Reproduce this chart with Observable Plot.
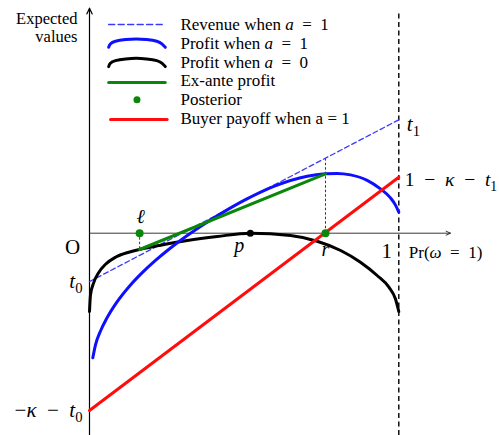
<!DOCTYPE html>
<html>
<head>
<meta charset="utf-8">
<script src="https://cdn.jsdelivr.net/npm/d3@7"></script>
<script src="https://cdn.jsdelivr.net/npm/@observablehq/plot@0.6"></script>
<style>
  body { margin: 0; background: #fff; }
  #chart svg { display: block; }
</style>
</head>
<body>
<div id="chart"></div>
<script>
// Beliefs Pr(ω = 1) and the expected values.
const profitA1X = [0.0107, 0.0194, 0.0356, 0.055, 0.0873, 0.1326, 0.1714, 0.2134, 0.2619, 0.3104, 0.3589, 0.4235, 0.5044, 0.5959, 0.7039, 0.763, 0.8008, 0.8438, 0.8978, 0.9408, 0.9732, 0.9893, 1];
const profitA1Y = [-1.246, -1.116, -0.978, -0.856, -0.695, -0.518, -0.392, -0.272, -0.148, -0.036, 0.067, 0.193, 0.335, 0.468, 0.570, 0.594, 0.598, 0.583, 0.529, 0.443, 0.353, 0.281, 0.211];

const profitA0X = [0, 0.0032, 0.014, 0.03, 0.052, 0.084, 0.127, 0.162, 0.23, 0.316, 0.413, 0.52, 0.65, 0.736, 0.812, 0.876, 0.93, 0.968, 0.989, 1];
const profitA0Y = [-0.783, -0.618, -0.492, -0.392, -0.31, -0.24, -0.19, -0.163, -0.12, -0.073, -0.033, 0, -0.023, -0.08, -0.173, -0.29, -0.423, -0.54, -0.656, -0.783];

// Revenue when a = 1 runs from t0 to t1; buyer payoff from −κ − t0 to 1 − κ − t1.
const t0 = -0.484, t1 = 1.134;
const buyerLow = -1.773, buyerHigh = 0.56;

// Posterior beliefs ℓ and r, and the prior p.
const ell = 0.162, prior = 0.52, r = 0.763;

// Text ($…$ italic, _c subscript)
const beliefLabels = ["$ℓ$", "$p$", "$r$"];
const originLabel = "O", oneLabel = "1", xTitle = "Pr($ω$\u2002=\u20021)", yTitle = "Expected\nvalues";
const t0Label = "$t$_0", t1Label = "$t$_1";
const buyerLowLabel = "−$κ$\u2002−\u2002$t$_0", buyerHighLabel = "1\u2002−\u2002$κ$\u2002−\u2002$t$_1";
const legendLabels = ["Revenue when $a$\u2002=\u20021", "Profit when $a$\u2002=\u20021", "Profit when $a$\u2002=\u20020", "Ex-ante profit", "Posterior", "Buyer payoff when a = 1"];

// ---- derived rows ----
const zip = (xs, ys) => xs.map((x, i) => ({x, y: ys[i]}));
const profitA1 = zip(profitA1X, profitA1Y);
const profitA0 = zip(profitA0X, profitA0Y);
const revenue = zip([0, 1], [t0, t1]);
const buyer = zip([0, 1], [buyerLow, buyerHigh]);
const a0AtEll = profitA0Y[profitA0X.indexOf(ell)];
const a1AtR = profitA1Y[profitA1X.indexOf(r)];
const exAnte = zip([ell, r], [a0AtEll, a1AtR]);
const revenueAtR = t0 + r * (t1 - t0);

const BLUE = "#0f0fff", DASHBLUE = "#3a3aff", GREEN = "#0a870a", RED = "#ff0d0d";
const yMin = -2.023, yMax = 2.327;
const unitPerPx = (yMax - yMin) / 435;

// legend layout (in scale units)
const lgX0 = 0.062, lgX1 = 0.245, lgTextX = 0.294, lgTop = 2.087, lgStep = 0.188;
const rowY = i => lgTop - i * lgStep;
const arcShape = [[0, 4], [0.03, 0.6], [0.12, -2], [0.3, -3.7], [0.485, -4.4], [0.67, -3.7], [0.85, -2], [0.94, 0.6], [1, 4]];
const arc = (i, dyPx) => arcShape.map(([f, o]) => ({x: lgX0 + f * (lgX1 - lgX0), y: rowY(i) - (o + dyPx) * unitPerPx}));

const lineW = 3;
const mathSize = 21;

const plot = Plot.plot({
  width: 499,
  height: 435,
  x: {domain: [0, 1], range: [89, 398.3], axis: null},
  y: {domain: [yMin, yMax], range: [435, 0], axis: null},
  style: {fontFamily: "'Liberation Serif', 'DejaVu Serif', serif", background: "#fff", color: "#000"},
  marks: [
    // belief = 1 boundary
    Plot.ruleX([1], {y1: yMin, y2: 2.2, stroke: "#000", strokeWidth: 1.4, strokeDasharray: "5,3.5"}),
    // axes
    Plot.arrow([{x1: 0, y1: yMin - 0.05, x2: 0, y2: 2.25}], {x1: "x1", y1: "y1", x2: "x2", y2: "y2", stroke: "#000", strokeWidth: 1.2, headLength: 8, headAngle: 50}),
    Plot.arrow([{x1: 0, y1: 0, x2: 1.167, y2: 0}], {x1: "x1", y1: "y1", x2: "x2", y2: "y2", stroke: "#222", strokeWidth: 0.9, headLength: 8, headAngle: 50}),
    // guides at the posteriors
    Plot.ruleX([ell], {y1: 0, y2: a0AtEll, stroke: "#000", strokeWidth: 0.8, strokeDasharray: "2.5,2"}),
    Plot.ruleX([r], {y1: 0, y2: revenueAtR, stroke: "#000", strokeWidth: 0.8, strokeDasharray: "2.5,2"}),
    // curves
    Plot.line(revenue, {x: "x", y: "y", stroke: DASHBLUE, strokeWidth: 1.3, strokeDasharray: "5,3"}),
    Plot.line(profitA0, {x: "x", y: "y", stroke: "#000", strokeWidth: lineW, curve: "monotone-x"}),
    Plot.line(profitA1, {x: "x", y: "y", stroke: BLUE, strokeWidth: lineW, curve: "monotone-x"}),
    Plot.line(exAnte, {x: "x", y: "y", stroke: GREEN, strokeWidth: lineW}),
    Plot.line(buyer, {x: "x", y: "y", stroke: RED, strokeWidth: lineW}),
    // posteriors and prior
    Plot.dot([ell, r], {x: d => d, y: 0, r: 4, fill: GREEN}),
    Plot.dot([prior], {x: d => d, y: 0, r: 3.5, fill: "#000"}),
    // labels
    Plot.text([beliefLabels[0]], {x: ell, y: 0, text: d => d, dx: 1, dy: -17, fontSize: 20}),
    Plot.text([beliefLabels[1]], {x: prior, y: 0, text: d => d, dx: -11, dy: 12, fontSize: 20}),
    Plot.text([beliefLabels[2]], {x: r, y: 0, text: d => d, dx: 0, dy: 16, fontSize: 20}),
    Plot.text([originLabel], {x: 0, y: 0, text: d => d, dx: -17, dy: 14, fontSize: mathSize}),
    Plot.text([oneLabel], {x: 1, y: 0, text: d => d, dx: -12, dy: 18, fontSize: mathSize}),
    Plot.text([xTitle], {x: 1, y: 0, text: d => d, dx: 10, dy: 19, fontSize: 17, textAnchor: "start"}),
    Plot.text([yTitle], {x: 0, y: 2.06, text: d => d, dx: -12, fontSize: 16.5, textAnchor: "end", lineHeight: 1.1}),
    Plot.text([t0Label], {x: 0, y: t0, text: d => d, dx: -7, dy: 0, fontSize: mathSize, textAnchor: "end"}),
    Plot.text([t1Label], {x: 1, y: t1, text: d => d, dx: 8, dy: 4, fontSize: mathSize, textAnchor: "start"}),
    Plot.text([buyerLowLabel], {x: 0, y: buyerLow, text: d => d, dx: -7, dy: 0, fontSize: mathSize, textAnchor: "end"}),
    Plot.text([buyerHighLabel], {x: 1, y: buyerHigh, text: d => d, dx: 6, dy: 3, fontSize: 19.5, textAnchor: "start"}),
    // legend
    Plot.line([{x: lgX0, y: rowY(0)}, {x: lgX1, y: rowY(0)}], {x: "x", y: "y", stroke: DASHBLUE, strokeWidth: 1.5, strokeDasharray: "6,3.5"}),
    Plot.line(arc(1, 0), {x: "x", y: "y", stroke: BLUE, strokeWidth: lineW, curve: "natural"}),
    Plot.line(arc(2, 0.5), {x: "x", y: "y", stroke: "#000", strokeWidth: lineW, curve: "natural"}),
    Plot.line([{x: lgX0, y: rowY(3) - 1.5 * unitPerPx}, {x: lgX1, y: rowY(3) - 1.5 * unitPerPx}], {x: "x", y: "y", stroke: GREEN, strokeWidth: lineW}),
    Plot.dot([{x: (lgX0 + lgX1) / 2, y: rowY(4)}], {x: "x", y: "y", r: 3.5, fill: GREEN}),
    Plot.line([{x: lgX0 + 0.006, y: rowY(5) - 1 * unitPerPx}, {x: lgX1 + 0.006, y: rowY(5) - 1 * unitPerPx}], {x: "x", y: "y", stroke: RED, strokeWidth: lineW}),
    Plot.text(legendLabels, {x: lgTextX, y: (d, i) => rowY(i), text: d => d, fontSize: 17, textAnchor: "start"})
  ]
});

// Light math typesetting: $…$ is italic, _c is a subscript.
function typeset(svg) {
  d3.select(svg).selectAll("text").each(function () {
    if (this.querySelector("tspan")) return;
    const src = this.textContent;
    if (!/[$_]/.test(src)) return;
    const el = d3.select(this).text(null);
    const re = /\$([^$]*)\$|_(\w)|([^$_]+)/g;
    let m;
    while ((m = re.exec(src))) {
      if (m[1] != null) el.append("tspan").attr("font-style", "italic").text(m[1]);
      else if (m[2] != null) el.append("tspan").attr("font-size", "70%").attr("dy", "0.35em").text(m[2]);
      else el.append("tspan").text(m[3]);
    }
  });
}
typeset(plot);
document.getElementById("chart").appendChild(plot);
</script>
</body>
</html>
